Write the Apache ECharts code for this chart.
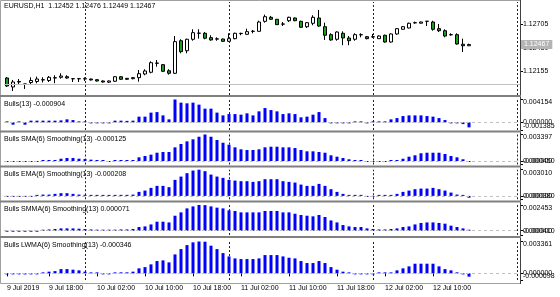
<!DOCTYPE html>
<html><head><meta charset="utf-8">
<script src="https://cdn.jsdelivr.net/npm/echarts@6/dist/echarts.min.js"></script>
<style>html,body{margin:0;padding:0;background:#fff;}#c{width:560px;height:297px;}</style>
</head><body><div id="c"></div>
<script>
const symbolName = "EURUSD,H1";
const startUTC = Date.UTC(2019, 6, 9, 11);
const barCount = 78;
const emptyBars = 8;

const open = [1.12075,1.11970,1.12028,1.12005,1.12022,1.12034,1.12052,1.12046,1.12075,1.12083,1.12090,1.12067,1.12066,1.12067,1.12063,1.12055,1.12040,1.12026,1.12037,1.12090,1.12071,1.12067,1.12079,1.12122,1.12142,1.12250,1.12231,1.12160,1.12130,1.12511,1.12394,1.12528,1.12598,1.12598,1.12547,1.12533,1.12531,1.12504,1.12535,1.12594,1.12586,1.12620,1.12621,1.12738,1.12785,1.12762,1.12707,1.12745,1.12777,1.12738,1.12675,1.12715,1.12777,1.12675,1.12582,1.12528,1.12598,1.12543,1.12528,1.12580,1.12558,1.12556,1.12535,1.12575,1.12496,1.12590,1.12645,1.12660,1.12720,1.12716,1.12738,1.12730,1.12652,1.12628,1.12580,1.12582,1.12470,1.12452];
const close = [1.11982,1.12028,1.12034,1.12003,1.12046,1.12063,1.12055,1.12083,1.12078,1.12098,1.12075,1.12066,1.12067,1.12064,1.12052,1.12040,1.12028,1.12040,1.12090,1.12060,1.12060,1.12079,1.12125,1.12157,1.12254,1.12247,1.12153,1.12130,1.12500,1.12383,1.12528,1.12605,1.12600,1.12540,1.12520,1.12530,1.12504,1.12535,1.12598,1.12597,1.12617,1.12622,1.12730,1.12792,1.12762,1.12699,1.12705,1.12785,1.12745,1.12668,1.12722,1.12785,1.12683,1.12575,1.12520,1.12613,1.12543,1.12511,1.12582,1.12582,1.12535,1.12558,1.12566,1.12496,1.12590,1.12652,1.12675,1.12715,1.12722,1.12730,1.12739,1.12645,1.12628,1.12566,1.12582,1.12473,1.12452,1.12467];
const low = [1.11970,1.11923,1.12005,1.11947,1.12005,1.12013,1.12022,1.12028,1.12013,1.12067,1.12067,1.12028,1.12028,1.12040,1.12046,1.12034,1.12022,1.12017,1.12028,1.12052,1.12052,1.12060,1.12032,1.12107,1.12130,1.12207,1.12145,1.12114,1.12122,1.12364,1.12364,1.12511,1.12535,1.12528,1.12511,1.12511,1.12500,1.12496,1.12528,1.12575,1.12582,1.12598,1.12617,1.12722,1.12754,1.12695,1.12683,1.12730,1.12740,1.12660,1.12660,1.12692,1.12675,1.12520,1.12511,1.12511,1.12458,1.12458,1.12511,1.12551,1.12528,1.12543,1.12531,1.12488,1.12488,1.12582,1.12640,1.12655,1.12710,1.12712,1.12683,1.12628,1.12613,1.12551,1.12570,1.12465,1.12379,1.12449];
const high = [1.12087,1.12052,1.12063,1.12005,1.12083,1.12091,1.12083,1.12098,1.12107,1.12130,1.12107,1.12068,1.12068,1.12083,1.12067,1.12060,1.12046,1.12046,1.12098,1.12098,1.12075,1.12087,1.12169,1.12177,1.12270,1.12286,1.12239,1.12177,1.12566,1.12528,1.12535,1.12645,1.12645,1.12613,1.12575,1.12551,1.12535,1.12598,1.12605,1.12605,1.12652,1.12637,1.12745,1.12816,1.12801,1.12765,1.12730,1.12792,1.12783,1.12745,1.12730,1.12809,1.12871,1.12722,1.12598,1.12621,1.12621,1.12566,1.12598,1.12598,1.12566,1.12590,1.12575,1.12582,1.12598,1.12660,1.12683,1.12722,1.12735,1.12735,1.12740,1.12745,1.12707,1.12645,1.12598,1.12598,1.12535,1.12476];

const bulls = [0.00005,-0.00042,0.00003,-0.00042,0.00031,0.00031,0.00031,0.00031,0.00031,0.00036,0.00055,0.00042,0.00009,0.00004,-0.00005,-0.00004,-0.00009,-0.00015,0.00031,0.00031,0.00027,0.00031,0.00104,0.00104,0.00177,0.00187,0.00127,0.00055,0.004154,0.00358,0.00346,0.00358,0.00322,0.00249,0.00249,0.00177,0.00127,0.00151,0.00151,0.00140,0.00164,0.00127,0.00200,0.00260,0.00224,0.00200,0.00151,0.00164,0.00151,0.00091,0.00104,0.00140,0.00187,0.00078,-0.00018,-0.00009,-0.00009,-0.00005,0.00009,0.00018,-0.00009,0.00005,0.00018,0.00004,0.00055,0.00078,0.00115,0.00127,0.00127,0.00127,0.00115,0.00104,0.00078,0.00042,-0.00005,-0.00009,-0.00031,-0.000904];
const bullsSMA = [-0.00003,-0.00006,-0.00006,-0.00008,-0.00005,-0.00002,0.00002,0.00005,0.00013,0.00029,0.00038,0.00038,0.00029,0.00026,0.00017,0.00005,0.00002,-0.00002,0.00004,0.00004,0.00009,0.00009,0.00047,0.00064,0.00081,0.00106,0.00115,0.00115,0.00175,0.00218,0.00252,0.00278,0.00311,0.003397,0.00311,0.00269,0.00234,0.00209,0.00175,0.00150,0.00141,0.00141,0.00150,0.00175,0.00183,0.00183,0.00175,0.00175,0.00166,0.00141,0.00124,0.00124,0.00115,0.00106,0.00073,0.00055,0.00038,0.00022,0.00004,0.00002,-0.00002,-0.00003,-0.00002,-0.00002,0.00002,0.00013,0.00029,0.00055,0.00073,0.00099,0.00106,0.00106,0.00106,0.00090,0.00064,0.00047,0.00022,-0.000125];
const bullsEMA = [-0.00003,-0.00006,-0.00008,-0.00010,-0.00005,0.00002,0.00015,0.00015,0.00023,0.00031,0.00031,0.00023,0.00015,0.00012,0.00008,0.00004,0.00002,0.00001,0.00008,0.00012,0.00012,0.00015,0.00046,0.00061,0.00092,0.00115,0.00115,0.00100,0.00184,0.00222,0.00261,0.00291,0.003010,0.00284,0.00245,0.00222,0.00207,0.00184,0.00176,0.00169,0.00169,0.00161,0.00169,0.00192,0.00192,0.00192,0.00169,0.00161,0.00153,0.00130,0.00115,0.00115,0.00138,0.00115,0.00077,0.00046,0.00023,0.00008,0.00002,0.00001,-0.00002,-0.00002,0.00001,0.00002,0.00008,0.00023,0.00046,0.00061,0.00077,0.00084,0.00084,0.00092,0.00077,0.00061,0.00038,0.00015,0.00001,-0.000208];
const bullsSMMA = [-0.00002,-0.00004,-0.00005,-0.00006,-0.00004,-0.00001,0.00007,0.00012,0.00016,0.00022,0.00022,0.00022,0.00019,0.00016,0.00012,0.00010,0.00007,0.00007,0.00010,0.00012,0.00012,0.00016,0.00035,0.00041,0.00060,0.00086,0.00086,0.00079,0.00143,0.00175,0.00213,0.00232,0.002453,0.00244,0.00232,0.00220,0.00213,0.00194,0.00188,0.00175,0.00175,0.00175,0.00175,0.00188,0.00188,0.00188,0.00175,0.00175,0.00162,0.00150,0.00143,0.00137,0.00150,0.00131,0.00098,0.00079,0.00054,0.00041,0.00035,0.00035,0.00022,0.00016,0.00012,0.00012,0.00016,0.00022,0.00035,0.00041,0.00060,0.00074,0.00079,0.00079,0.00074,0.00067,0.00048,0.00035,0.00022,0.000071];
const bullsLWMA = [-0.00005,-0.00008,-0.00010,-0.00011,-0.00009,-0.00003,0.00003,0.00018,0.00024,0.00045,0.00045,0.00039,0.00032,0.00018,0.00003,0.00001,-0.00001,-0.00002,0.00003,0.00011,0.00011,0.00018,0.00053,0.00066,0.00095,0.00130,0.00137,0.00116,0.00200,0.00256,0.00298,0.00327,0.003361,0.00334,0.00292,0.00256,0.00214,0.00179,0.00158,0.00151,0.00151,0.00151,0.00158,0.00193,0.00193,0.00193,0.00179,0.00165,0.00158,0.00130,0.00109,0.00109,0.00130,0.00109,0.00066,0.00039,0.00018,0.00003,-0.00001,-0.00001,-0.00003,-0.00002,0.00001,0.00001,0.00003,0.00032,0.00053,0.00074,0.00102,0.00102,0.00102,0.00102,0.00074,0.00045,0.00032,0.00011,-0.00003,-0.000346];

const priceTicks = [1.12155, 1.12705];
const hiddenTick = [1.12430];
const paneNames = ["Bulls(13)", "Bulls SMA(6) Smoothing(13)", "Bulls EMA(6) Smoothing(13)", "Bulls SMMA(6) Smoothing(13)", "Bulls LWMA(6) Smoothing(13)"];
const paneSeries = [bulls, bullsSMA, bullsEMA, bullsSMMA, bullsLWMA];
const paneMin = [-0.001385, -0.000450, -0.000380, -0.000410, -0.000698];
const paneMax = [0.004154, 0.003397, 0.003010, 0.002453, 0.003361];
const priceMin = 1.11876, priceMax = 1.12964;

const MON = ['Jan','Feb','Mar','Apr','May','Jun','Jul','Aug','Sep','Oct','Nov','Dec'];
const cats = [];
for (let i = 0; i < barCount + emptyBars; i++) {
  const d = new Date(startUTC + i * 3600000);
  cats.push({d: d.getUTCDate(), m: MON[d.getUTCMonth()], y: d.getUTCFullYear(), h: d.getUTCHours()});
}
const catNames = cats.map(c => c.d + ' ' + c.m + ' ' + c.y + ' ' + String(c.h).padStart(2,'0') + ':00');
const sepCats = catNames.filter((n, i) => cats[i].h === 0);
const showTime = (i) => i === 0 || (i < barCount && cats[i].h % 8 === 2);

const FONT = 'Liberation Sans';
const FS = 7;
const L = 4, W = 516;
const grids = [
  {top: 2, height: 93},
  {top: 99.5, height: 30.5},
  {top: 134.5, height: 30},
  {top: 169.7, height: 29.5},
  {top: 205, height: 30},
  {top: 241.5, height: 38.5}
];

const lbl = (extra) => Object.assign({margin: 3, color: '#000', fontFamily: FONT, fontSize: FS, hideOverlap: false}, extra);
const tick = (vals, show) => ({show: show !== false, customValues: vals, length: 3, lineStyle: {color: '#000'}});

const yAxes = [];
const yIndexOfGrid = [];
// main pane
yIndexOfGrid.push(yAxes.length);
yAxes.push({type: 'value', gridIndex: 0, position: 'right', min: priceMin, max: priceMax, axisLine: {show: false}, splitLine: {show: false},
  axisTick: tick(priceTicks), axisLabel: lbl({customValues: priceTicks, formatter: v => v.toFixed(5)})});
yAxes.push({type: 'value', gridIndex: 0, position: 'right', min: priceMin, max: priceMax, axisLine: {show: false}, splitLine: {show: false},
  axisTick: tick(hiddenTick), axisLabel: lbl({customValues: hiddenTick, formatter: v => v.toFixed(5)})});
yAxes.push({type: 'value', gridIndex: 0, position: 'right', min: priceMin, max: priceMax, axisLine: {show: false}, splitLine: {show: false}, z: 5,
  axisTick: tick([close[barCount-1]], false),
  axisLabel: lbl({customValues: [close[barCount-1]], margin: 1, formatter: v => v.toFixed(5), color: '#ffffff', backgroundColor: '#b4b4b4', padding: [1, 3, 1, 3]})});
// indicator panes
paneMax.forEach((mx, k) => {
  const gi = k + 1, mn = paneMin[k];
  yIndexOfGrid.push(yAxes.length);
  yAxes.push({type: 'value', gridIndex: gi, position: 'right', min: mn, max: mx, axisLine: {show: false}, splitLine: {show: false},
    axisTick: tick([0, mx]), axisLabel: lbl({customValues: [0, mx], formatter: v => (v === mx ? '{t|' + v.toFixed(6) + '}' : v.toFixed(6)),
      rich: {t: {padding: [6,0,0,0], fontFamily: FONT, fontSize: FS, color: '#000'}}})});
  yAxes.push({type: 'value', gridIndex: gi, position: 'right', min: mn, max: mx, axisLine: {show: false}, splitLine: {show: false},
    axisTick: tick([mn]), axisLabel: lbl({customValues: [mn], formatter: v => '{b|' + v.toFixed(6) + '}',
      rich: {b: {padding: [0,0,7,0], fontFamily: FONT, fontSize: FS, color: '#000'}}})});
});

const option = {
  animation: false,
  backgroundColor: '#ffffff',
  textStyle: {fontFamily: FONT, fontSize: FS},
  grid: grids.map(g => ({left: L, width: W, top: g.top, height: g.height, show: false})),
  xAxis: grids.map((g, gi) => ({
    type: 'category', gridIndex: gi, data: catNames, boundaryGap: true,
    axisLine: {show: false},
    offset: gi === 5 ? 3 : 0,
    axisTick: {show: gi === 5, interval: (i) => showTime(i), alignWithLabel: true, length: 3, lineStyle: {color: '#000'}},
    axisLabel: {show: gi === 5, interval: (i) => showTime(i), align: 'left', margin: 2, color: '#000', fontFamily: FONT, fontSize: FS, hideOverlap: false,
      formatter: (v, i) => { const c = cats[i]; return i === 0 ? (c.d + ' ' + c.m + ' ' + c.y) : (c.d + ' ' + c.m + ' ' + String(c.h).padStart(2,'0') + ':00'); }},
    splitLine: {show: false}
  })),
  yAxis: yAxes,
  series: []
};

const sepLines = sepCats.map(n => ({xAxis: n, lineStyle: {color: '#222', type: [2,2], width: 1}}));

option.series.push({
  type: 'candlestick', xAxisIndex: 0, yAxisIndex: yIndexOfGrid[0], barWidth: 4,
  data: open.map((o, i) => [o, close[i], low[i], high[i]]),
  itemStyle: {color: '#ffffff', color0: '#1aa01a', borderColor: '#000', borderColor0: '#000', borderWidth: 1},
  markLine: {silent: true, symbol: 'none', animation: false, label: {show: false},
    data: sepLines.concat([{yAxis: close[barCount-1], lineStyle: {color: '#c0c0c0', type: 'solid', width: 1}}])}
});

paneSeries.forEach((arr, k) => {
  option.series.push({
    type: 'bar', xAxisIndex: k + 1, yAxisIndex: yIndexOfGrid[k + 1], data: arr, barWidth: 3, barMinHeight: 1,
    itemStyle: {color: '#0000ff'},
    markLine: {silent: true, symbol: 'none', animation: false, label: {show: false},
      data: sepLines.concat([{yAxis: 0, lineStyle: {color: '#c0c0c0', type: [3,3], width: 1}}])}
  });
});

const fmtLast = (a) => a[barCount-1].toFixed(6);
const ttl = (top, text) => ({left: 4, top: top, text: text, padding: 0, textStyle: {fontFamily: FONT, fontSize: FS, fontWeight: 'normal', color: '#000'}});
option.title = [ttl(3, symbolName + '  ' + open[barCount-1].toFixed(5) + ' ' + high[barCount-1].toFixed(5) + ' ' + low[barCount-1].toFixed(5) + ' ' + close[barCount-1].toFixed(5))]
  .concat(paneNames.map((n, k) => ttl([101, 136, 171, 206, 242][k], n + ' ' + fmtLast(paneSeries[k]))));

const frameCol = '#808080';
const seps = [95, 130.5, 165.5, 200.5, 236];
option.graphic = [
  {type: 'rect', shape: {x: 0.5, y: 0.5, width: 520, height: 283}, style: {fill: null, stroke: '#a0a0a0', lineWidth: 1}, silent: true, z: 10},
  {type: 'line', shape: {x1: 520.5, y1: 0, x2: 520.5, y2: 284}, style: {stroke: '#404040', lineWidth: 1}, silent: true, z: 10}
].concat(seps.map(y => ({type: 'rect', shape: {x: 0, y: y, width: 521, height: 2}, style: {fill: frameCol}, silent: true, z: 10})));

const chart = echarts.init(document.getElementById('c'), null, {renderer: 'canvas'});
chart.setOption(option);
</script></body></html>
